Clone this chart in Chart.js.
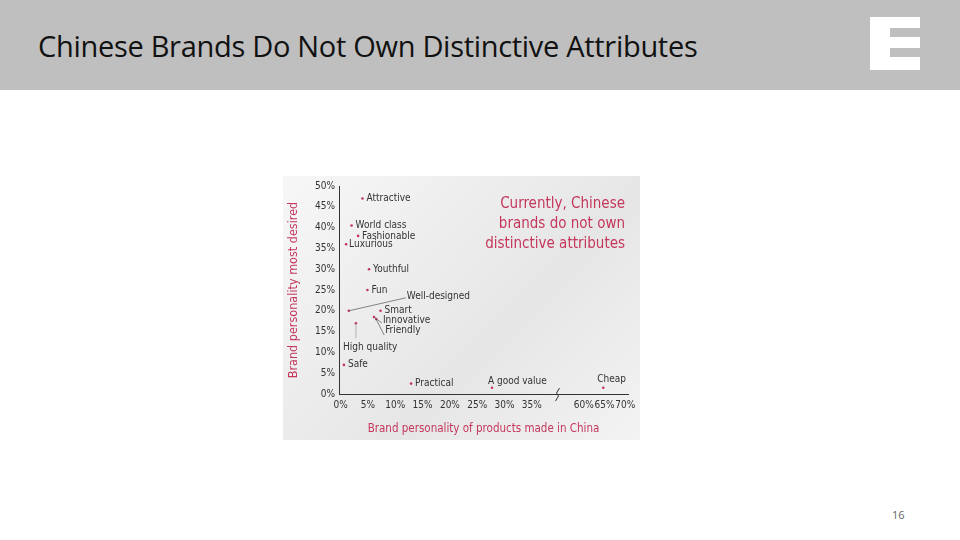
<!DOCTYPE html>
<html><head><meta charset="utf-8">
<script src="https://cdn.jsdelivr.net/npm/chart.js@4/dist/chart.umd.min.js"></script>
<style>
body{margin:0;width:960px;height:540px;background:#fff;position:relative;overflow:hidden;font-family:"Open Sans",sans-serif}
#hdr{position:absolute;left:0;top:0;width:960px;height:90px;background:#bfbfbf}
#ttl{position:absolute;left:38px;top:26px;font-size:29px;color:#111;font-family:"Open Sans",sans-serif;letter-spacing:-0.3px}
#logo{position:absolute;left:870px;top:17px;width:50px;height:53px;background:#fff}
#logo i{position:absolute;left:20px;width:30px;height:9px;background:#bfbfbf}
#box{position:absolute;left:283px;top:176px;width:357px;height:264px;background:linear-gradient(135deg,#f7f7f7,#e6e6e6 60%,#f3f3f3)}
#pg{position:absolute;left:892px;top:507px;font-size:11px;color:#666}
</style></head><body>
<div id="hdr"></div>
<div id="ttl">Chinese Brands Do Not Own Distinctive Attributes</div>
<div id="logo"><i style="top:11px"></i><i style="top:31px"></i></div>
<div id="box"><canvas id="c" width="357" height="264"></canvas></div>
<div id="pg">16</div>
<script>
// brand attributes: % made-in-China (x) vs % most desired (y)
const labels = ['Attractive','World class','Fashionable','Luxurious','Youthful','Fun','Well-designed','Smart','Innovative','Friendly','High quality','Safe','Practical','A good value','Cheap'];
const madeInChina = [4, 2, 3.2, 1, 5.2, 4.9, 1.5, 7.3, 6.1, 6.5, 2.8, 0.6, 12.9, 27.7, 64.7];
const mostDesired = [47, 40.5, 38, 36, 30, 25, 20, 20, 18.5, 18, 17, 7, 2.5, 1.5, 1.5];
const xTickValues = [0, 5, 10, 15, 20, 25, 30, 35, 60, 65, 70];
const yTickValues = [0, 5, 10, 15, 20, 25, 30, 35, 40, 45, 50];

// broken x axis: 0-35% linear, then 60-70% compressed
const toAxis = v => v <= 37.5 ? v : 44.5 + (v - 60) * 0.76;
const red = '#c4375b';
const tickFont = {family: '"DejaVu Sans Condensed", sans-serif', size: 10};

// label offsets in px (dx, dy) for text beside each point
const labelOffsets = [[4,0],[4,0],[4,0],[3,0],[4,0],[4,0],[0,0],[4,0],[0,0],[0,0],[0,0],[4,0],[4,0],[-4,-6],[-6,-8]];

const pointLabels = {
  id: 'pointLabels',
  afterDatasetsDraw(chart) {
    const ctx = chart.ctx, meta = chart.getDatasetMeta(0);
    ctx.save();
    ctx.font = '10px "DejaVu Sans Condensed", sans-serif';
    ctx.fillStyle = '#333';
    ctx.textBaseline = 'middle';
    meta.data.forEach((p, i) => {
      const name = labels[i];
      if (name === 'Well-designed') {
        ctx.strokeStyle = '#555'; ctx.lineWidth = 0.7;
        ctx.beginPath(); ctx.moveTo(p.x, p.y); ctx.lineTo(p.x + 57, p.y - 13); ctx.stroke();
        ctx.fillText(name, p.x + 58, p.y - 14);
      } else if (name === 'Innovative' || name === 'Friendly') {
        const dy = name === 'Innovative' ? 12 : 22;
        ctx.strokeStyle = '#555'; ctx.lineWidth = 0.7;
        ctx.beginPath(); ctx.moveTo(p.x, p.y); ctx.lineTo(p.x + 8, p.y + dy - 6); ctx.stroke();
        ctx.fillText(name, p.x + 9, p.y + dy - 9 + (name === 'Friendly' ? -2 : 0));
      } else if (name === 'High quality') {
        ctx.strokeStyle = '#999'; ctx.lineWidth = 0.7;
        ctx.beginPath(); ctx.moveTo(p.x, p.y); ctx.lineTo(p.x, p.y + 15); ctx.stroke();
        ctx.fillText(name, p.x - 13, p.y + 24);
      } else {
        const o = labelOffsets[i];
        ctx.fillText(name, p.x + o[0], p.y + o[1]);
      }
    });
    // axis break mark
    const xs = chart.scales.x, y0 = chart.scales.y.bottom;
    const bx = xs.getPixelForValue(39.7);
    ctx.strokeStyle = '#333'; ctx.lineWidth = 1;
    ctx.beginPath(); ctx.moveTo(bx - 2, y0 + 7); ctx.lineTo(bx + 1, y0 + 2); ctx.lineTo(bx - 1, y0 - 1); ctx.lineTo(bx + 2, y0 - 6); ctx.stroke();
    // headline
    ctx.font = '15px "DejaVu Sans Condensed", sans-serif';
    ctx.fillStyle = red; ctx.textAlign = 'right'; ctx.textBaseline = 'alphabetic';
    ['Currently, Chinese', 'brands do not own', 'distinctive attributes'].forEach((t, i) => ctx.fillText(t, 342, 32 + i * 20));
    ctx.restore();
  }
};

new Chart(document.getElementById('c'), {
  type: 'scatter',
  data: {datasets: [{
    data: madeInChina.map((v, i) => ({x: toAxis(v), y: mostDesired[i]})),
    pointRadius: 1.3, pointBackgroundColor: red, pointBorderWidth: 0
  }]},
  options: {
    responsive: false, animation: false,
    layout: {padding: {top: 9, right: 12, left: 3, bottom: 0}},
    plugins: {legend: {display: false}, tooltip: {enabled: false}},
    scales: {
      x: {
        type: 'linear', min: -0.3, max: 52.6,
        afterBuildTicks: s => { s.ticks = xTickValues.map(v => ({value: toAxis(v)})); },
        afterFit: s => { s.height = 46; },
        ticks: {callback: (v, i) => xTickValues[i] + '%', color: '#333', font: tickFont, maxRotation: 0, autoSkip: false, padding: 1},
        grid: {display: false, drawTicks: true, tickLength: 4, color: '#333'},
        border: {color: '#333'},
        title: {display: true, text: 'Brand personality of products made in China', color: red, font: {family: '"DejaVu Sans Condensed", sans-serif', size: 11.5}, padding: {top: 5}}
      },
      y: {
        min: 0, max: 50,
        afterBuildTicks: s => { s.ticks = yTickValues.map(v => ({value: v})); },
        afterFit: s => { s.width = 53; },
        ticks: {callback: v => v + '%', color: '#333', font: tickFont, padding: 4},
        grid: {display: false, drawTicks: false},
        border: {color: '#333'},
        title: {display: true, text: 'Brand personality most desired', color: red, font: {family: '"DejaVu Sans Condensed", sans-serif', size: 12.5}, padding: 0}
      }
    }
  },
  plugins: [pointLabels]
});
</script>
</body></html>
